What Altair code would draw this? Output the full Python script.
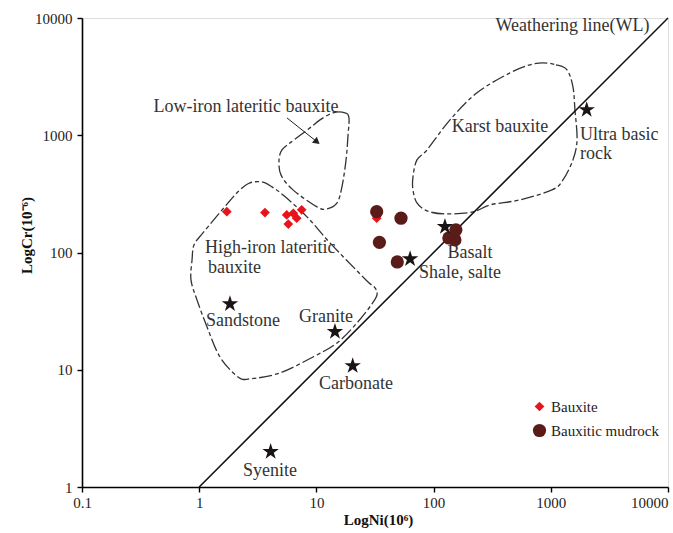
import altair as alt
import pandas as pd

# ---------------- data ----------------
bauxite_ni = [1.72, 3.64, 5.58, 6.35, 7.49, 6.79, 5.76, 32.7]
bauxite_cr = [223, 219, 209, 216, 231, 196, 175, 196]

mudrock_ni = [32.7, 52.7, 34.5, 49, 135, 152, 155]
mudrock_cr = [223, 196, 122, 83, 133, 128, 156]

rock_names = ["Ultra basic rock", "Basalt", "Shale, salte", "Sandstone", "Granite", "Carbonate", "Syenite"]
rock_ni = [2024, 125, 63, 1.83, 14.4, 20.4, 4.07]
rock_cr = [1648, 166, 88, 36.4, 21.1, 10.8, 2.0]

# weathering line Cr = Ni
wl_ni = [1, 10000]
wl_cr = [1, 10000]

# field outlines, log10(Ni), log10(Cr)
high_iron_lx = [0.433, 0.536, 0.621, 0.724, 0.920, 1.116, 1.423, 1.500, 1.517, 1.474, 1.346, 1.176, 0.971,
                0.689, 0.433, 0.331, 0.177, 0.067, -0.019, -0.070, -0.061, -0.044, 0.032, 0.246, 0.348]
high_iron_ly = [2.594, 2.602, 2.560, 2.483, 2.304, 2.082, 1.766, 1.698, 1.638, 1.561, 1.399, 1.229, 1.109,
                0.973, 0.922, 0.939, 1.109, 1.365, 1.596, 1.766, 1.937, 2.065, 2.167, 2.423, 2.534]

low_iron_lx = [1.142, 1.244, 1.278, 1.270, 1.253, 1.218, 1.176, 1.090, 1.005, 0.800, 0.698, 0.681, 0.706,
               0.775, 0.945, 1.031]
low_iron_ly = [3.191, 3.191, 3.148, 3.003, 2.790, 2.560, 2.423, 2.372, 2.389, 2.534, 2.662, 2.790, 2.875,
               2.935, 3.063, 3.131]

karst_lx = [2.933, 3.044, 3.138, 3.189, 3.206, 3.224, 3.189, 3.104, 3.010, 2.737, 2.481, 2.336, 2.097,
            1.944, 1.858, 1.824, 1.824, 1.858, 1.944, 2.140, 2.370, 2.652, 2.823]
karst_ly = [3.618, 3.601, 3.558, 3.413, 3.217, 2.961, 2.790, 2.619, 2.534, 2.449, 2.406, 2.346, 2.329,
            2.355, 2.423, 2.534, 2.645, 2.790, 2.875, 3.131, 3.362, 3.532, 3.601]

# arrow for "Low-iron lateritic bauxite" (log10 values)
arrow_lx = [0.749, 1.005]
arrow_ly = [3.148, 2.944]

# annotation texts (log10 positions)
center_text = ["Weathering line(WL)", "Low-iron lateritic bauxite", "Karst  bauxite", "Basalt",
               "Shale, salte", "Sandstone", "Granite", "Carbonate", "Syenite"]
center_lx = [3.185, 0.399, 2.567, 2.311, 2.225, 0.374, 1.082, 1.338, 0.604]
center_ly = [3.933, 3.245, 3.074, 1.997, 1.826, 1.416, 1.451, 0.879, 0.137]

left_text = ["Ultra basic", "rock", "High-iron lateritic", "bauxite"]
left_lx = [3.249, 3.249, 0.049, 0.075]
left_ly = [3.003, 2.841, 2.039, 1.869]

# ---------------- tables ----------------
pts = pd.DataFrame({
    "ni": bauxite_ni + mudrock_ni,
    "cr": bauxite_cr + mudrock_cr,
    "kind": ["Bauxite"] * len(bauxite_ni) + ["Bauxitic mudrock"] * len(mudrock_ni),
})
stars = pd.DataFrame({"ni": rock_ni, "cr": rock_cr, "name": rock_names})
wl = pd.DataFrame({"ni": wl_ni, "cr": wl_cr})

rows = []
for name, lx, ly in [("high", high_iron_lx, high_iron_ly), ("low", low_iron_lx, low_iron_ly),
                     ("karst", karst_lx, karst_ly)]:
    for i, (a, b) in enumerate(zip(lx, ly)):
        rows.append({"ni": 10 ** a, "cr": 10 ** b, "field": name, "idx": i})
fields = pd.DataFrame(rows)

arrow = pd.DataFrame({"ni": [10 ** v for v in arrow_lx], "cr": [10 ** v for v in arrow_ly], "idx": [0, 1]})
arrow_head = arrow.iloc[[1]]

ctext = pd.DataFrame({"ni": [10 ** v for v in center_lx], "cr": [10 ** v for v in center_ly], "t": center_text})
ltext = pd.DataFrame({"ni": [10 ** v for v in left_lx], "cr": [10 ** v for v in left_ly], "t": left_text})

# ---------------- encodings ----------------
FONT = "Liberation Serif"
xs = alt.Scale(type="log", domain=[0.1, 10000], nice=False)
ys = alt.Scale(type="log", domain=[1, 10000], nice=False)

X = alt.X("ni:Q", scale=xs, axis=alt.Axis(
    title="LogNi(10⁶)", values=[0.1, 1, 10, 100, 1000, 10000], labelExpr="format(datum.value, '~g')",
    grid=False, domainColor="#000", domainWidth=1.6, tickColor="#000", tickWidth=1.4, tickSize=5,
    labelFont=FONT, labelFontSize=15, labelColor="#222", labelPadding=3, labelFlush=False,
    labelAlign=alt.condition("datum.value >= 10000", alt.value("right"), alt.value("center")),
    titleFont=FONT, titleFontSize=15, titleFontWeight="bold", titleColor="#111",
    titleX=296, titleY=32, titleBaseline="middle", titleAlign="center"))
Y = alt.Y("cr:Q", scale=ys, axis=alt.Axis(
    title="LogCr(10⁻⁶)", values=[1, 10, 100, 1000, 10000], labelExpr="format(datum.value, '~g')",
    grid=False, domainColor="#000", domainWidth=1.6, tickColor="#000", tickWidth=1.4, tickSize=5,
    labelFont=FONT, labelFontSize=15, labelColor="#222", labelPadding=5, labelFlush=False,
    titleFont=FONT, titleFontSize=15, titleFontWeight="bold", titleColor="#111",
    titleX=-56, titleY=217, titleBaseline="middle", titleAlign="center", titleAngle=-90))

field_layer = alt.Chart(fields).mark_line(
    interpolate="cardinal-closed", color="#333", strokeWidth=1.3, strokeDash=[13, 3, 4, 3]
).encode(x=X, y=Y, detail="field:N", order="idx:Q")

wl_layer = alt.Chart(wl).mark_line(color="#111", strokeWidth=1.5).encode(x=X, y=Y)

arrow_layer = alt.Chart(arrow).mark_line(color="#222", strokeWidth=1).encode(x=X, y=Y, order="idx:Q")
arrow_head_layer = alt.Chart(arrow_head).mark_point(
    shape="triangle-up", filled=True, color="#222", size=60, angle=129, opacity=1
).encode(x=X, y=Y)

point_layer = alt.Chart(pts).mark_point(filled=True, opacity=1).encode(
    x=X, y=Y,
    color=alt.Color("kind:N", scale=alt.Scale(domain=["Bauxite", "Bauxitic mudrock"],
                                              range=["#e8141c", "#5a1c18"]),
                    legend=alt.Legend(title=None, orient="none", legendX=450, legendY=381,
                                      labelFont=FONT, labelFontSize=15, labelColor="#222",
                                      symbolSize=110, rowPadding=8, symbolStrokeWidth=0)),
    shape=alt.Shape("kind:N", scale=alt.Scale(domain=["Bauxite", "Bauxitic mudrock"],
                                              range=["diamond", "circle"]), legend=None),
    size=alt.Size("kind:O", scale=alt.Scale(domain=["Bauxite", "Bauxitic mudrock"], range=[95, 175]),
                  legend=None),
)

STAR = "M0,-1L0.225,-0.309L0.951,-0.309L0.363,0.118L0.588,0.809L0,0.382L-0.588,0.809L-0.363,0.118L-0.951,-0.309L-0.225,-0.309Z"
star_layer = alt.Chart(stars).mark_point(shape=STAR, filled=True, color="#1a1414", size=300, opacity=1).encode(
    x=X, y=Y)

ctext_layer = alt.Chart(ctext).mark_text(
    font=FONT, fontSize=18, color="#333", align="center", baseline="middle").encode(x=X, y=Y, text="t:N")
ltext_layer = alt.Chart(ltext).mark_text(
    font=FONT, fontSize=18, color="#333", align="left", baseline="middle").encode(x=X, y=Y, text="t:N")

chart = alt.layer(
    field_layer, wl_layer, arrow_layer, arrow_head_layer, point_layer, star_layer, ctext_layer, ltext_layer
).properties(
    width=586, height=469,
    padding={"left": 82, "top": 18, "right": 5, "bottom": 46},
    autosize=alt.AutoSizeParams(type="none"),
).configure_view(stroke=None).configure(background="white")

chart.save("out.html", embed_options={"renderer": "svg", "actions": False})
